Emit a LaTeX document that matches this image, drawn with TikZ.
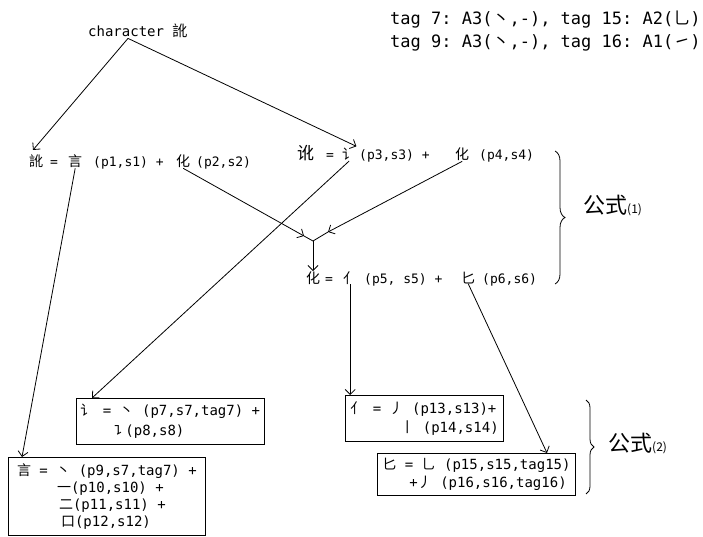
\documentclass[tikz,border=0pt]{standalone}
\usepackage{fontspec}
\setmonofont{DejaVu Sans Mono}
\newfontfamily\cjkf{Noto Sans CJK SC}
\usetikzlibrary{arrows.meta,calc,decorations.pathreplacing}
\newcommand\cj[1]{{\cjkf #1}}
\begin{document}
\begin{tikzpicture}[x=1pt,y=-1pt,
  ln/.style={line width=0.8pt},
  arr/.style={line width=0.8pt,-{Straight Barb[length=5pt,width=10pt]}},
  fm/.style={font=\ttfamily\fontsize{13}{15}\selectfont,inner sep=0pt,anchor=base west},
  ck/.style={font=\cjkf\fontsize{14}{16}\selectfont,inner sep=0pt,anchor=base west},
  hd/.style={font=\ttfamily\fontsize{17}{20}\selectfont,inner sep=0pt,anchor=base west},
  bx/.style={draw,line width=0.8pt,align=left,anchor=north west,inner xsep=5pt,inner ysep=6pt},
  brc/.style={decorate,decoration={brace,amplitude=10pt},line width=0.8pt},
  lbl/.style={font=\cjkf\fontsize{22}{24}\selectfont,inner sep=0pt,anchor=west}
]
\useasboundingbox[fill=white] (0,0) rectangle (703,537);
% header
\node[hd] (h1) at (390,25) {tag 7: A3(\cj{丶},-), tag 15: A2(\cj{乚})};
\node[hd] (h2) at (390,48) {tag 9: A3(\cj{丶},-), tag 16: A1(\cj{㇀})};
% character
\node[font=\ttfamily\fontsize{14}{16}\selectfont,inner sep=0pt,anchor=base west] (ch) at (88,37) {character \cj{\fontsize{15}{16}\selectfont 訛}};
% formula 1
\node[ck] (f1a) at (29,167) {訛};
\node[fm] (f1e) at (50,167) {=};
\node[ck] (f1c1) at (68,167) {言};
\node[fm] (f1b) at (93,167) {(p1,s1) +};
\node[ck] (f1c2) at (176,167) {化};
\node[fm] (f1d) at (196,167) {(p2,s2)};
% formula 2
\node[ck,font=\cjkf\fontsize{17}{18}\selectfont] (f2a) at (297,160) {讹};
\node[fm] (f2e) at (326,160) {=};
\node[ck] (f2c1) at (342,160) {讠};
\node[fm] (f2b) at (359,160) {(p3,s3) +};
\node[ck] (f2c2) at (455,160) {化};
\node[fm] (f2d) at (479,160) {(p4,s4)};
% formula 3
\node[ck] (f3a) at (306,283) {化};
\node[fm] (f3e) at (325,283) {=};
\node[ck] (f3c1) at (343,283) {亻};
\node[fm] (f3b) at (364,283) {(p5,~s5) +};
\node[ck] (f3c2) at (461,283) {匕};
\node[fm] (f3d) at (482,283) {(p6,s6)};
% boxes
\node[bx,inner xsep=4pt,font=\ttfamily\fontsize{14}{20}\selectfont] (bA) at (76,398)
  {\cj{讠} = \cj{丶} (p7,s7,tag7) +\\\hspace*{31pt}\cj{㇊}(p8,s8)};
\node[bx,minimum width=197pt,font=\ttfamily\fontsize{14}{17}\selectfont] (bB) at (8,457)
  {\cj{言} = \cj{丶} (p9,s7,tag7) +\\\hspace*{40pt}\cj{一}(p10,s10) +\\\hspace*{42pt}\cj{二}(p11,s11) +\\\hspace*{44pt}\cj{口}(p12,s12)};
\node[bx,font=\ttfamily\fontsize{14}{19}\selectfont] (bC) at (345,395)
  {\cj{亻} = \cj{丿} (p13,s13)+\\\hspace*{50pt}\cj{丨} (p14,s14)};
\node[bx,inner ysep=5pt,font=\ttfamily\fontsize{14}{18}\selectfont] (bD) at (377,453)
  {\cj{匕} = \cj{乚} (p15,s15,tag15)\\\hspace*{27pt}+\cj{丿} (p16,s16,tag16)};
% braces and labels
\draw[brc] (555,151) -- (555,284);
\node[lbl] (L1) at (583,205) {公式{\fontsize{12}{12}\selectfont(1)}};
\draw[brc,decoration={brace,amplitude=8pt}] (586,400) -- (586,494);
\node[lbl] (L2) at (608,443) {公式{\fontsize{12}{12}\selectfont(2)}};
% connectors
\coordinate (apex) at ($(ch.south west)+(40,0)$);
\draw[arr] (apex) -- ($(f1a.north west)+(4,-5)$);
\draw[arr] (apex) -- ($(f2c1.north east)+(0,-2)$);
\draw[arr] (f1c1.south) -- ($(bB.north west)+(14,0)$);
\coordinate (J1) at (304,236);
\coordinate (J2) at (328,232);
\coordinate (J) at (313,241);
\draw[arr] (f1c2.south) -- (J1);
\draw[arr] (f2c2.south) -- (J2);
\draw[ln] (J1) -- (J) -- (J2);
\draw[arr] (J) -- (J |- f3a.north);
\draw[arr] (f2c1.south) -- ($(bA.north west)+(16,0)$);
\draw[arr] (f3c1.south) -- (f3c1.south |- bC.north);
\draw[arr] (f3c2.south) -- ($(bD.north west)+(170,0)$);
\end{tikzpicture}
\end{document}
